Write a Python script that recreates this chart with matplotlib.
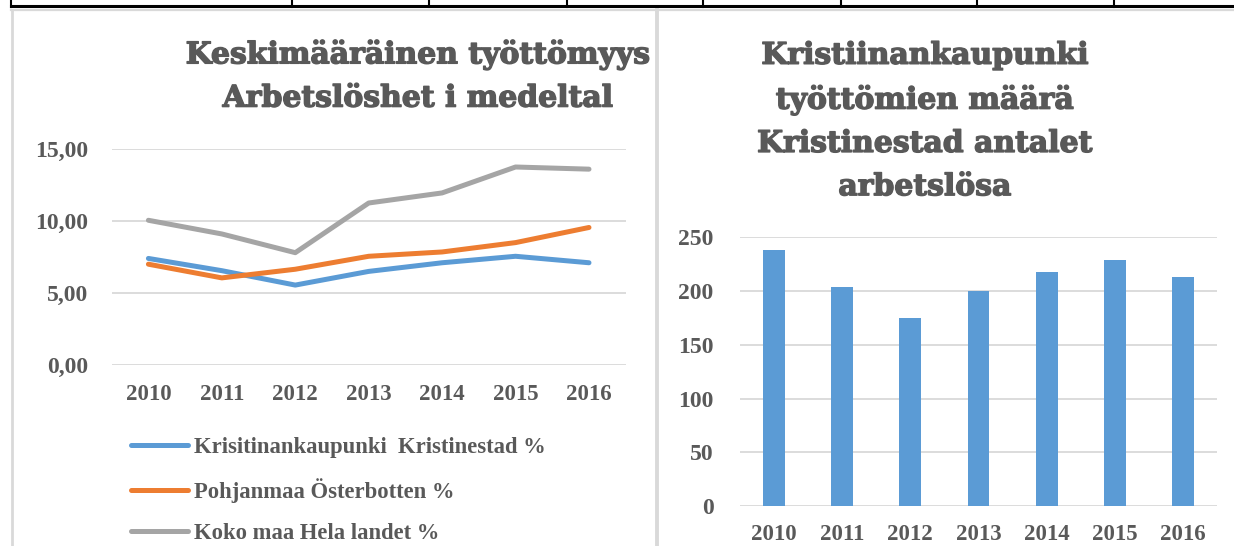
import matplotlib.pyplot as plt
import matplotlib.patheffects as pe
from matplotlib.lines import Line2D

# data
years = ['2010', '2011', '2012', '2013', '2014', '2015', '2016']
kristinestad_pct = [7.4, 6.55, 5.55, 6.5, 7.1, 7.55, 7.1]
osterbotten_pct = [7.0, 6.05, 6.65, 7.55, 7.85, 8.5, 9.55]
hela_landet_pct = [10.05, 9.1, 7.8, 11.25, 11.95, 13.75, 13.6]
arbetslosa = [238, 204, 175, 200, 218, 229, 213]

line_labels = ['Krisitinankaupunki  Kristinestad %',
               'Pohjanmaa Österbotten %',
               'Koko maa Hela landet %']
left_title = 'Keskimääräinen työttömyys\nArbetslöshet i medeltal'
right_title = 'Kristiinankaupunki\ntyöttömien määrä\nKristinestad antalet\narbetslösa'

BLUE = '#5b9bd5'
ORANGE = '#ed7d31'
GRAY = '#a5a5a5'
TEXT = '#595959'
GRID = '#d9d9d9'

W, H = 1234, 546
fig = plt.figure(figsize=(W / 100, H / 100), dpi=100)


def fx(px):
    return px / W


def fy(py):
    return 1 - py / H


ytick_font = dict(family='Liberation Serif', weight='bold', size=17)
xtick_font = dict(family='Liberation Serif', weight='bold', size=16.5)
title_font = dict(family='DejaVu Serif', weight='bold', size=21.5)
heavy = [pe.withStroke(linewidth=1.0, foreground=TEXT)]

# ---------------------------------------------------------
# page decoration (table row above, chart frames)
# ---------------------------------------------------------
fig.add_artist(Line2D([fx(11), 1], [fy(5.5), fy(5.5)], color='black', lw=2.2))
for xp in [11, 292, 429, 567, 703, 841, 977, 1114]:
    fig.add_artist(Line2D([fx(xp), fx(xp)], [1, fy(7)], color='black', lw=1.5))
fig.add_artist(Line2D([fx(11), 1], [fy(9.5), fy(9.5)], color=GRID, lw=1.6))
fig.add_artist(Line2D([fx(11.5), fx(11.5)], [fy(9.5), 0], color=GRID, lw=2))
fig.add_artist(Line2D([fx(657), fx(657)], [fy(9.5), 0], color=GRID, lw=2.8))

# ---------------------------------------------------------
# left: line chart
# ---------------------------------------------------------
ax1 = fig.add_axes([fx(111.7), fy(365), (625.7 - 111.7) / W, (365 - 149) / H])
x = range(len(years))
ax1.plot(x, kristinestad_pct, color=BLUE, lw=3.6, solid_capstyle='round', label=line_labels[0], zorder=3)
ax1.plot(x, osterbotten_pct, color=ORANGE, lw=3.6, solid_capstyle='round', label=line_labels[1], zorder=3)
ax1.plot(x, hela_landet_pct, color=GRAY, lw=3.6, solid_capstyle='round', label=line_labels[2], zorder=3)
ax1.set_xlim(-0.5, len(years) - 0.5)
ax1.set_ylim(0, 15)
ax1.set_yticks([0, 5, 10, 15])
ax1.set_yticklabels([f'{v:.2f}'.replace('.', ',') for v in [0, 5, 10, 15]], color=TEXT, **ytick_font)
ax1.set_xticks(list(x))
ax1.set_xticklabels(years, color=TEXT, **xtick_font)
ax1.tick_params(axis='y', length=0, pad=17)
ax1.tick_params(axis='x', length=0, pad=14)
ax1.grid(axis='y', color=GRID, lw=1.3)
ax1.set_axisbelow(True)
for s in ax1.spines.values():
    s.set_visible(False)

leg = ax1.legend(loc='upper left', bbox_to_anchor=(fx(131), fy(437)), bbox_transform=fig.transFigure,
                 frameon=False, borderpad=0, borderaxespad=0, handlelength=2.5, handletextpad=0.3,
                 labelspacing=0.88, prop=dict(family='Liberation Serif', weight='bold', size=16.3))
for t in leg.get_texts():
    t.set_color(TEXT)

fig.text(fx(418), fy(76), left_title, ha='center', va='center', color=TEXT,
         linespacing=1.62, path_effects=heavy, **title_font)

# ---------------------------------------------------------
# right: bar chart
# ---------------------------------------------------------
ax2 = fig.add_axes([fx(740), fy(506), (1217 - 740) / W, (506 - 237.3) / H])
ax2.bar(x, arbetslosa, width=0.32, color=BLUE, zorder=3)
ax2.set_xlim(-0.5, len(years) - 0.5)
ax2.set_ylim(0, 250)
ax2.set_yticks([0, 50, 100, 150, 200, 250])
ax2.set_yticklabels(['0', '50', '100', '150', '200', '250'], color=TEXT, **ytick_font)
ax2.set_xticks(list(x))
ax2.set_xticklabels(years, color=TEXT, **xtick_font)
ax2.tick_params(axis='y', length=0, pad=19)
ax2.tick_params(axis='x', length=0, pad=13)
ax2.grid(axis='y', color=GRID, lw=1.3)
ax2.set_axisbelow(True)
for s in ax2.spines.values():
    s.set_visible(False)

fig.text(fx(925), fy(121), right_title, ha='center', va='center', color=TEXT,
         linespacing=1.62, path_effects=heavy, **title_font)

fig.savefig('out.png', dpi=100)
